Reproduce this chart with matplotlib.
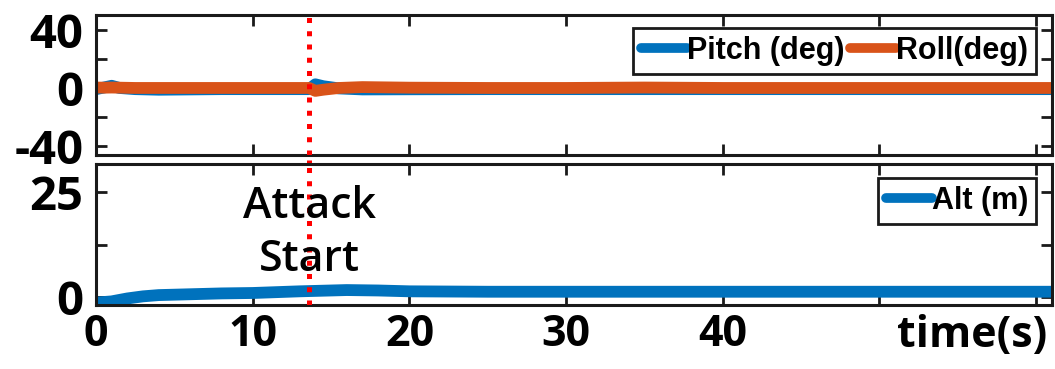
import matplotlib
matplotlib.use('Agg')
from matplotlib import pyplot as plt

# time axis (s) and readings
t_att = [0, 0.5, 1.0, 1.5, 2.5, 4, 6, 8, 10, 12, 13.6, 14.0, 14.5, 15.5, 17, 20, 25, 30, 35, 40, 45, 50, 55, 61]
pitch = [-0.8, 0.3, 1.5, 0.0, -0.8, -1.2, -1.0, -0.8, -0.8, -0.8, -0.8, 2.5, 1.2, -0.3, -1.0, -0.9, -0.8, -0.8, -0.8, -0.8, -0.8, -0.8, -0.8, -0.8]
roll = [0.3, 0.2, 0.3, 0.2, 0.0, 0.0, 0.0, 0.0, 0.0, 0.0, 0.0, -2.0, -1.2, 0.0, 0.6, 0.2, 0.0, 0.0, 0.3, 0.0, 0.0, 0.0, 0.0, 0.0]

t_alt = [0, 1, 2, 3, 4, 6, 8, 10, 13, 16, 18, 20, 25, 30, 40, 50, 61]
alt = [-1.3, -1.0, -0.3, 0.2, 0.5, 0.7, 0.9, 1.0, 1.4, 1.7, 1.6, 1.4, 1.3, 1.3, 1.3, 1.3, 1.3]

attack_t = 13.6
xticks = [0, 10, 20, 30, 40, 50, 60]
xticklabels = ['0', '10', '20', '30', '40', '', '']

blue = '#0072BD'
orange = '#D95319'
edge = '#1a1a1a'

plt.rcParams['font.family'] = ['Open Sans', 'DejaVu Sans']

fig = plt.figure(figsize=(10.55, 3.69), dpi=100)
ax1 = fig.add_axes([0.091, 0.580, 0.906, 0.379])
ax2 = fig.add_axes([0.091, 0.173, 0.906, 0.382])

ax1.plot(t_att, pitch, color=blue, lw=8.5, solid_capstyle='round', label='Pitch (deg)')
ax1.plot(t_att, roll, color=orange, lw=8.5, solid_capstyle='round', label='Roll(deg)')
ax2.plot(t_alt, alt, color=blue, lw=8.5, solid_capstyle='round', label='Alt (m)')

ax1.set_ylim(-46, 50)
ax1.set_yticks([-40, -20, 0, 20, 40])
ax1.set_yticklabels(['-40', '', '0', '', '40'])
ax2.set_ylim(-1.9, 31.7)
ax2.set_yticks([0, 12.5, 25])
ax2.set_yticklabels(['0', '', '25'])

for ax in (ax1, ax2):
    ax.set_xlim(0, 61)
    ax.set_xticks(xticks)
    ax.axvline(attack_t, color='red', ls=':', lw=3.6, dash_capstyle='butt', zorder=5)
    for s in ax.spines.values():
        s.set_color(edge)
        s.set_linewidth(2.2)
    ax.tick_params(direction='in', length=8, width=2, color=edge, top=True, right=True, pad=6)
    ax.tick_params(axis='y', labelsize=34, pad=9)
    ax.tick_params(axis='x', labelsize=31)
    for lab in ax.get_yticklabels():
        lab.set_fontweight('bold')

ax1.set_xticklabels([])
ax2.set_xticklabels(xticklabels, fontweight='bold')
ax2.set_xlabel('time(s)', fontsize=31, fontweight='bold')
ax2.xaxis.set_label_coords(0.917, -0.06)

# dotted line through the gap between the panels
ax1.axvline(attack_t, ymin=-0.07, ymax=0.0, color='red', ls=':', lw=3.6, clip_on=False)

ax2.text(attack_t, 15.3, 'Attack\nStart', fontsize=31, fontweight='semibold', ha='center',
         va='center', linespacing=1.3, color='black', zorder=6)

leg_kw = dict(loc='upper right', fancybox=False, framealpha=1, edgecolor=edge,
              handlelength=1.5, handletextpad=0.0, borderpad=0.25, borderaxespad=0.0,
              prop={'family': 'Liberation Sans', 'weight': 'bold', 'size': 22})
l1 = ax1.legend(ncol=2, columnspacing=0.2, bbox_to_anchor=(0.983, 0.905), **leg_kw)
l2 = ax2.legend(bbox_to_anchor=(0.983, 0.90), **leg_kw)
for lg in (l1, l2):
    lg.get_frame().set_linewidth(2)
    for ln in lg.get_lines():
        ln.set_linewidth(7)

plt.savefig('out.png', dpi=100)
plt.close(fig)
